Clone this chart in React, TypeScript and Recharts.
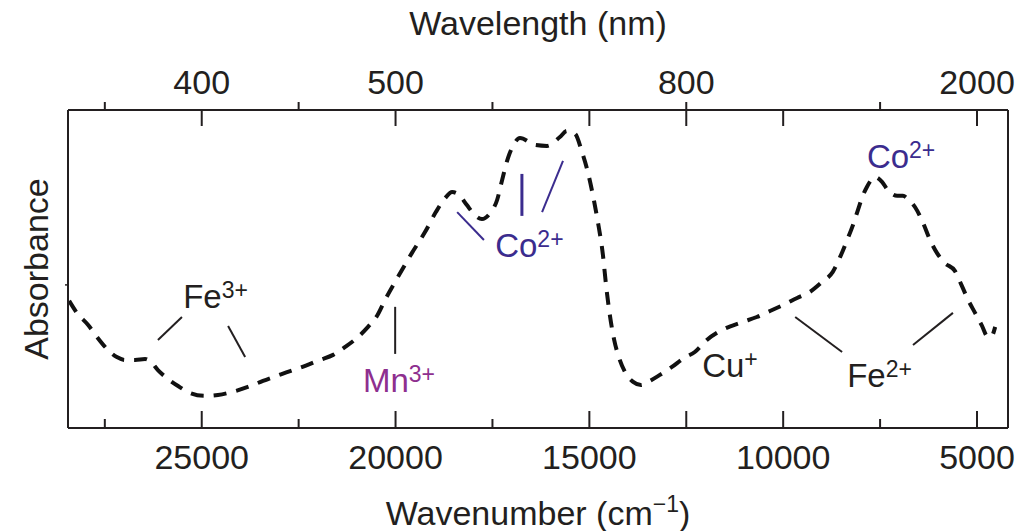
import { LineChart, Line, XAxis, YAxis, ReferenceLine, ReferenceDot } from 'recharts';

const FONT = '"Liberation Sans", Arial, Helvetica, sans-serif';
const INK = '#231f20';
const CO_BLUE = '#3b2c8e';
const MN_PURPLE = '#8e2f8f';

// Wavenumber (cm-1) of each traced point, left (high) to right (low)
const wavenumbers = [
  28420, 28220, 27930, 27700, 27470, 27190, 26980, 26720, 26460, 26310,
  26130, 25900, 25610, 25300, 24920, 24580, 24140, 23810, 23420, 23060,
  22720, 22470, 21950, 21610, 21300, 20970, 20710, 20480, 20270, 19910,
  19580, 19240, 18960, 18720, 18540, 18390, 18160, 17980, 17770, 17560,
  17380, 17250, 17100, 16970, 16790, 16400, 16090, 15760, 15580, 15370,
  15190, 15040, 14910, 14780, 14650, 14570, 14490, 14360, 14240, 14080,
  13870, 13670, 13440, 13180, 12870, 12560, 12280, 11970, 11630, 11060,
  10680, 10340, 10000, 9640, 9310, 9000, 8720, 8530, 8350, 8200,
  8070, 7970, 7840, 7630, 7450, 7300, 7060, 6910, 6780, 6600,
  6390, 6210, 6030, 5830, 5570, 5390, 5230, 5050, 4870, 4740,
  4640, 4530,
];

// Absorbance (arbitrary units, 0-100 across the frame)
const absorbance = [
  40.0, 36.2, 32.4, 28.6, 25.2, 22.3, 21.4, 21.4, 21.7, 20.8,
  18.2, 15.7, 13.2, 11.0, 10.1, 10.4, 11.6, 12.9, 14.8, 16.4,
  17.9, 18.9, 21.4, 23.0, 25.5, 28.6, 31.8, 35.2, 40.3, 48.1,
  55.0, 61.6, 67.9, 72.3, 74.2, 73.6, 70.1, 67.3, 65.7, 67.6,
  71.7, 78.0, 84.9, 88.7, 91.2, 89.0, 88.7, 91.5, 93.4, 92.5,
  86.8, 80.5, 73.3, 64.8, 54.4, 45.0, 37.1, 27.7, 22.3, 17.6,
  14.5, 13.5, 14.8, 16.7, 19.2, 22.0, 23.9, 27.7, 30.5, 33.3,
  34.9, 36.8, 38.7, 40.9, 42.8, 45.9, 49.1, 53.8, 59.1, 63.8,
  68.6, 72.3, 75.8, 78.9, 77.4, 74.8, 73.0, 73.0, 72.0, 69.5,
  64.5, 59.1, 55.0, 51.9, 49.4, 44.7, 40.3, 36.2, 32.1, 28.9,
  28.6, 31.8,
];

const allTicks = [27500, 25000, 22500, 20000, 17500, 15000, 12500, 10000, 7500, 5000];
const longTicks = [25000, 20000, 15000, 12500, 10000, 5000];
const outwardTopTicks = [27500, 22500, 17500, 12500, 7500];
const bottomLabelTicks = [25000, 20000, 15000, 10000, 5000];
const topLabelTicks = [25000, 20000, 12500, 5000]; // 400, 500, 800, 2000 nm
const yTicks = [45];

// pointer lines: [w1, a1, w2, a2]
const inkPointers = [
  [25510, 34.9, 26130, 27.7],
  [24320, 32.1, 23880, 22.3],
  [9690, 34.9, 8480, 23.9],
  [5620, 36.2, 6650, 26.1],
];
const mnPointers = [[20010, 38.1, 20010, 23.3]];
const coPointers = [
  [18410, 67.9, 17720, 59.1],
  [16740, 79.9, 16740, 66.7],
  [15680, 84.0, 16220, 67.9],
];

const ionLabels = [
  { ion: 'Fe', charge: '3+', w: 25480, a: 37.7, tone: 'ink' },
  { ion: 'Mn', charge: '3+', w: 20840, a: 11.3, tone: 'mn' },
  { ion: 'Co', charge: '2+', w: 17430, a: 53.8, tone: 'co' },
  { ion: 'Co', charge: '2+', w: 7840, a: 81.8, tone: 'co' },
  { ion: 'Cu', charge: '+', w: 12090, a: 16.0, tone: 'ink' },
  { ion: 'Fe', charge: '2+', w: 8350, a: 12.9, tone: 'ink' },
];

const toneColor: Record<string, string> = { ink: INK, mn: MN_PURPLE, co: CO_BLUE };

const data = wavenumbers.map((w, i) => ({ w, a: absorbance[i] }));

function BottomTick({ x, y, payload }: any) {
  const v = payload.value;
  const len = longTicks.includes(v) ? 17 : 9;
  return (
    <g>
      <line x1={x} x2={x} y1={y} y2={y - len} stroke={INK} strokeWidth={2} />
      {bottomLabelTicks.includes(v) && (
        <text x={x} y={y + 41} textAnchor="middle" fontSize={34} fill={INK} fontFamily={FONT}>
          {v}
        </text>
      )}
    </g>
  );
}

function TopTick({ x, y, payload }: any) {
  const v = payload.value;
  return (
    <g>
      {longTicks.includes(v) && <line x1={x} x2={x} y1={y} y2={y + 16} stroke={INK} strokeWidth={2} />}
      {outwardTopTicks.includes(v) && <line x1={x} x2={x} y1={y} y2={y - 8} stroke={INK} strokeWidth={2} />}
      {topLabelTicks.includes(v) && (
        <text x={x} y={y - 16} textAnchor="middle" fontSize={34} fill={INK} fontFamily={FONT}>
          {Math.round(1e7 / v)}
        </text>
      )}
    </g>
  );
}

function LeftTick({ x, y }: any) {
  return <line x1={x} x2={x - 3} y1={y} y2={y} stroke={INK} strokeWidth={1.5} />;
}

function IonText({ viewBox, ion, charge, color }: any) {
  const { x, y } = viewBox;
  return (
    <text x={x} y={y} fontSize={33} fill={color} fontFamily={FONT}>
      <tspan>{ion}</tspan>
      <tspan dy={-10} fontSize={23}>{charge}</tspan>
    </text>
  );
}

export default function App() {
  return (
    <div style={{ width: 1036, height: 531, background: '#fff' }}>
      <style>{'body{margin:0}'}</style>
      <LineChart width={1036} height={531} data={data} margin={{ top: 0, right: 0, bottom: 0, left: 0 }}>
        <XAxis
          xAxisId="bottom"
          dataKey="w"
          type="number"
          orientation="bottom"
          domain={[4200, 28450]}
          allowDataOverflow
          reversed
          ticks={allTicks}
          interval={0}
          height={103}
          tickSize={0}
          tickMargin={0}
          tickLine={false}
          tick={<BottomTick />}
          axisLine={{ stroke: INK, strokeWidth: 2 }}
          label={{
            content: ({ viewBox }: any) => (
              <text x={viewBox.x + viewBox.width / 2} y={viewBox.y + 97} textAnchor="middle" fontSize={34} fill={INK} fontFamily={FONT}>
                <tspan>Wavenumber (cm</tspan>
                <tspan dy={-13} fontSize={23}>−1</tspan>
                <tspan dy={13}>)</tspan>
              </text>
            ),
          }}
        />
        <XAxis
          xAxisId="top"
          dataKey="w"
          type="number"
          orientation="top"
          domain={[4200, 28450]}
          allowDataOverflow
          reversed
          ticks={allTicks}
          interval={0}
          height={110}
          tickSize={0}
          tickMargin={0}
          tickLine={false}
          tick={<TopTick />}
          axisLine={{ stroke: INK, strokeWidth: 2 }}
          label={{
            content: ({ viewBox }: any) => (
              <text x={viewBox.x + viewBox.width / 2} y={35} textAnchor="middle" fontSize={34} fill={INK} fontFamily={FONT}>
                Wavelength (nm)
              </text>
            ),
          }}
        />
        <YAxis
          yAxisId="left"
          type="number"
          domain={[0, 100]}
          allowDataOverflow
          width={68}
          ticks={yTicks}
          tickSize={0}
          tickMargin={0}
          tickLine={false}
          tick={<LeftTick />}
          axisLine={{ stroke: INK, strokeWidth: 2 }}
          label={{
            content: ({ viewBox }: any) => {
              const cx = 48;
              const cy = viewBox.y + viewBox.height / 2;
              return (
                <text x={cx} y={cy} transform={`rotate(-90, ${cx}, ${cy})`} textAnchor="middle" fontSize={34} fill={INK} fontFamily={FONT}>
                  Absorbance
                </text>
              );
            },
          }}
        />
        <YAxis
          yAxisId="right"
          orientation="right"
          type="number"
          domain={[0, 100]}
          width={28}
          tick={false}
          tickLine={false}
          axisLine={{ stroke: INK, strokeWidth: 2 }}
        />

        {inkPointers.map((p, i) => (
          <ReferenceLine key={`ink-${i}`} xAxisId="bottom" yAxisId="left" segment={[{ x: p[0], y: p[1] }, { x: p[2], y: p[3] }]} stroke={INK} strokeWidth={2} ifOverflow="visible" />
        ))}
        {mnPointers.map((p, i) => (
          <ReferenceLine key={`mn-${i}`} xAxisId="bottom" yAxisId="left" segment={[{ x: p[0], y: p[1] }, { x: p[2], y: p[3] }]} stroke={INK} strokeWidth={2} ifOverflow="visible" />
        ))}
        {coPointers.map((p, i) => (
          <ReferenceLine key={`co-${i}`} xAxisId="bottom" yAxisId="left" segment={[{ x: p[0], y: p[1] }, { x: p[2], y: p[3] }]} stroke={CO_BLUE} strokeWidth={i === 1 ? 3 : 2} ifOverflow="visible" />
        ))}

        <Line
          xAxisId="bottom"
          yAxisId="left"
          type="monotone"
          dataKey="a"
          stroke="#111"
          strokeWidth={4}
          strokeDasharray="13 10"
          dot={false}
          activeDot={false}
          isAnimationActive={false}
        />

        {ionLabels.map((l, i) => (
          <ReferenceDot
            key={`ion-${i}`}
            xAxisId="bottom"
            yAxisId="left"
            x={l.w}
            y={l.a}
            r={0}
            fill="none"
            stroke="none"
            ifOverflow="visible"
            label={<IonText ion={l.ion} charge={l.charge} color={toneColor[l.tone]} />}
          />
        ))}
      </LineChart>
    </div>
  );
}
